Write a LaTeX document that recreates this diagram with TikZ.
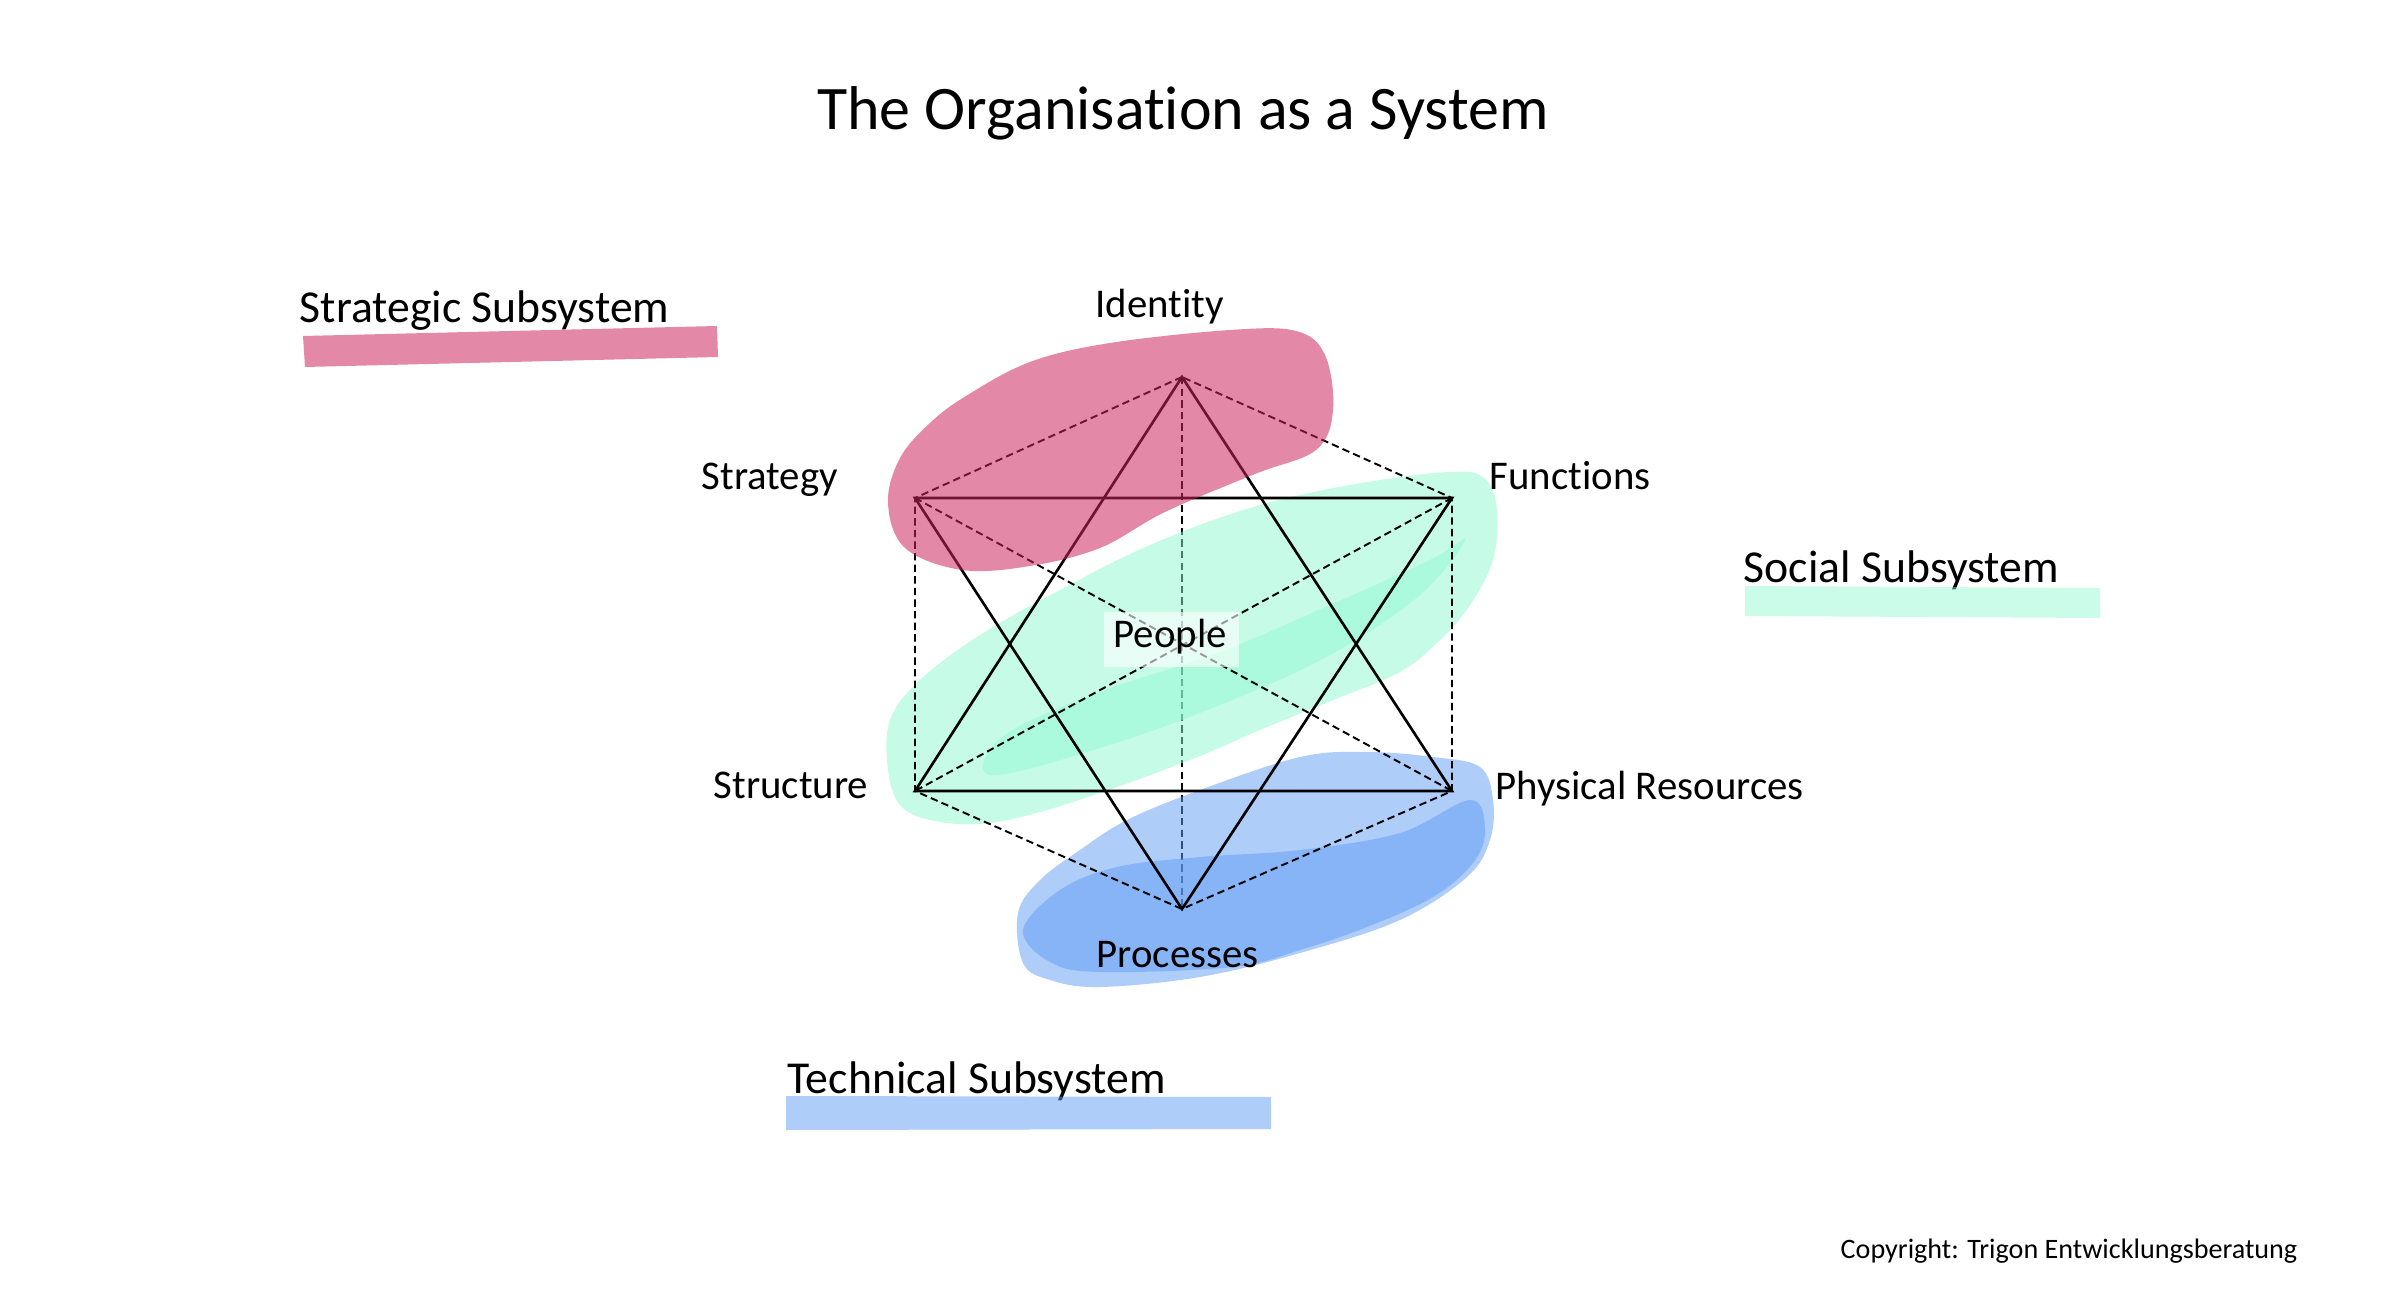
\documentclass[tikz,border=0pt]{standalone}
\usepackage{fontspec}
\setmainfont{Carlito}[Ligatures=NoCommon]
\definecolor{pinkc}{RGB}{204,37,93}
\definecolor{mintc}{RGB}{141,249,209}
\definecolor{bluec}{RGB}{97,157,245}
\begin{document}
\begin{tikzpicture}[x=0.01cm,y=-0.01cm,
  lbl/.style={anchor=base west,inner sep=0pt,font=\fontsize{11.6}{14}\selectfont},
  sublbl/.style={anchor=base west,inner sep=0pt,font=\fontsize{13}{16}\selectfont},
  solidln/.style={line width=0.75pt},
  dashln/.style={line width=0.55pt,dash pattern=on 2.1pt off 1.2pt},
  pinkblob/.style={fill=pinkc,fill opacity=0.54,draw=none},
  mintblob/.style={fill=mintc,fill opacity=0.5,draw=none},
  blueblob/.style={fill=bluec,fill opacity=0.5,draw=none}]
\useasboundingbox (0,0) rectangle (2388,1298);
\fill[white] (0,0) rectangle (2388,1298);

% vertices
\coordinate (I) at (1182,377);
\coordinate (St) at (915,498);
\coordinate (F) at (1452,498);
\coordinate (Su) at (915,791);
\coordinate (R) at (1452,791);
\coordinate (P) at (1182,909);

% vertical dashed line (under the social / technical blobs)
\draw[dashln] (I) -- (P);

% social blob
\fill[mintblob] plot[smooth cycle,tension=0.6] coordinates {
 (1448,472) (1484,478) (1497,510) (1493,560) (1470,605) (1440,640) (1400,672)
 (1333,700) (1260,730) (1200,756) (1120,786) (1040,812) (980,824) (930,820)
 (900,805) (888,770) (890,720) (920,680) (980,635) (1060,590) (1150,545)
 (1250,508) (1350,485)};
\fill[mintblob,fill opacity=0.45] plot[smooth cycle,tension=0.6] coordinates {
 (990,775) (1100,748) (1220,705) (1330,655) (1420,595) (1465,540) (1430,560)
 (1330,605) (1220,652) (1100,692) (1005,735)};

% technical blob
\fill[blueblob] plot[smooth cycle,tension=0.6] coordinates {
 (1127,820) (1200,790) (1300,757) (1367,752) (1433,757) (1480,767) (1493,800)
 (1490,840) (1467,877) (1400,920) (1300,953) (1200,977) (1100,987) (1050,980)
 (1023,963) (1018,913) (1040,880) (1080,850)};
\fill[blueblob] plot[smooth cycle,tension=0.6] coordinates {
 (1023,930) (1060,890) (1117,867) (1200,857) (1300,850) (1400,833) (1470,800)
 (1485,830) (1473,863) (1433,897) (1367,927) (1300,950) (1233,967) (1100,972)
 (1050,962)};

% star of David (solid)
\draw[solidln] (I) -- (Su) -- (R) -- cycle;
\draw[solidln] (P) -- (St) -- (F) -- cycle;
% hexagon and diagonals (dashed)
\draw[dashln] (I) -- (St) -- (Su) -- (P) -- (R) -- (F) -- cycle;
\draw[dashln] (St) -- (R);
\draw[dashln] (F) -- (Su);

% strategic blob (over the lines)
\fill[pinkblob] plot[smooth cycle,tension=0.6] coordinates {
 (966,396) (1030,362) (1110,343) (1230,330) (1296,331) (1325,355) (1333,410)
 (1316,450) (1255,474) (1165,512) (1100,548) (1030,566) (962,570) (905,548)
 (888,503) (900,458) (930,423)};

% people box
\fill[white,fill opacity=0.6] (1104,612) rectangle (1239,667);

% labels
\node[anchor=base,inner sep=0pt,font=\fontsize{17.6}{21}\selectfont] (title) at (1183,130) {The Organisation as a System};
\node[lbl] (lI) at (1095,318) {Identity};
\node[lbl] (lSt) at (701,490) {Strategy};
\node[lbl] (lF) at (1489,490) {Functions};
\node[lbl] (lSu) at (713,799) {Structure};
\node[lbl] (lR) at (1495,800) {Physical Resources};
\node[lbl] (lP) at (1096,967) {Processes};
\node[lbl] (lPe) at (1113,648) {People};
\node[anchor=base west,inner sep=0pt,font=\fontsize{8}{10}\selectfont] (copy) at (1840,1258) {Copyright: Trigon Entwicklungsberatung};

\node[sublbl] (sStrat) at (299,323) {Strategic Subsystem};
\node[sublbl] (sSoc) at (1743,583) {Social Subsystem};
\node[sublbl] (sTech) at (787,1093) {Technical Subsystem};

% highlighter bars (over the text)
\fill[pinkblob] (303,336) -- (717,326) -- (718,357) -- (305,367) -- cycle;
\fill[mintblob,fill opacity=0.45] (1745,586) -- (2100,588) -- (2100,618) -- (1745,616) -- cycle;
\fill[blueblob,fill opacity=0.5] (786,1096) -- (1271,1097) -- (1271,1129) -- (786,1130) -- cycle;
\end{tikzpicture}
\end{document}
